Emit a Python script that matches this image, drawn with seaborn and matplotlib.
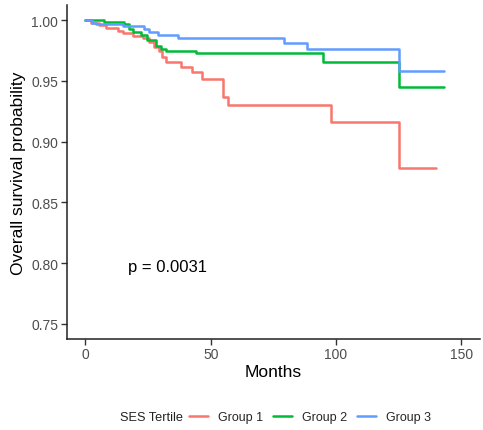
import seaborn as sns
import matplotlib.pyplot as plt
import pandas as pd

# Kaplan-Meier steps (months, survival after the step)
g1_t = [0, 2.1, 5.5, 8.1, 12.8, 14.8, 18.8, 22.8, 25.3, 27.3, 29.3, 30.7, 32, 38, 42.7, 46.7, 54.7, 56.7, 98, 125.3, 140]
g1_s = [1.0, 0.998, 0.996, 0.994, 0.991, 0.9896, 0.987, 0.985, 0.982, 0.978, 0.9745, 0.970, 0.9657, 0.9616, 0.9575, 0.952, 0.937, 0.9306, 0.916, 0.878, 0.878]

g2_t = [0, 7.5, 15.5, 17.5, 18.8, 22.1, 24.7, 28, 30, 32, 44, 95, 125.3, 143]
g2_s = [1.0, 0.9987, 0.9965, 0.993, 0.990, 0.9877, 0.9835, 0.979, 0.9767, 0.975, 0.9734, 0.9652, 0.9448, 0.9448]

g3_t = [0, 2.8, 4.1, 14.8, 23.5, 25.5, 28.8, 36.8, 79.3, 88.4, 125.3, 143]
g3_s = [1.0, 0.998, 0.9965, 0.995, 0.993, 0.9904, 0.9877, 0.9857, 0.9814, 0.9759, 0.958, 0.958]

groups = ['Group 1', 'Group 2', 'Group 3']
colors = ['#F8766D', '#00BA38', '#619CFF']

df = pd.concat([
    pd.DataFrame({'Months': t, 'surv': s, 'SES Tertile': g})
    for t, s, g in zip([g1_t, g2_t, g3_t], [g1_s, g2_s, g3_s], groups)
])

sns.set_theme(style='ticks')
plt.rcParams['font.family'] = ['Liberation Sans', 'DejaVu Sans']

fig = plt.figure(figsize=(4.83, 4.31), dpi=100)
ax = fig.add_axes([0.138, 0.211, 0.856, 0.775])

sns.lineplot(data=df, x='Months', y='surv', hue='SES Tertile', palette=colors,
             estimator=None, sort=False, drawstyle='steps-post', linewidth=1.8, ax=ax)

ax.set_xlim(-7.5, 157.5)
ax.set_ylim(0.7375, 1.0125)
ax.set_xticks([0, 50, 100, 150])
ax.set_yticks([0.75, 0.80, 0.85, 0.90, 0.95, 1.00])
ax.set_yticklabels(['0.75', '0.80', '0.85', '0.90', '0.95', '1.00'])
ax.tick_params(labelsize=10, colors='#333333', length=4, width=1, labelcolor='#4D4D4D', pad=2)
for side in ['left', 'bottom']:
    ax.spines[side].set_color('#222222')
    ax.spines[side].set_linewidth(1.1)
sns.despine(ax=ax)

ax.set_xlabel('Months', fontsize=12.5, color='black', labelpad=2)
ax.set_ylabel('Overall survival probability', fontsize=12.5, color='black', labelpad=4)

ax.text(16.8, 0.797, 'p = 0.0031', fontsize=12, ha='left', va='center', color='black')

handles, labels = ax.get_legend_handles_labels()
ax.get_legend().remove()
fig.legend(handles, labels, ncol=3, loc='center', bbox_to_anchor=(0.642, 0.030),
           frameon=False, fontsize=9, handlelength=1.5, handletextpad=0.8,
           columnspacing=0.8, borderaxespad=0)
fig.text(0.378, 0.030, 'SES Tertile', fontsize=9.2, ha='right', va='center', color='#222222')

fig.savefig('out.png', dpi=100)
